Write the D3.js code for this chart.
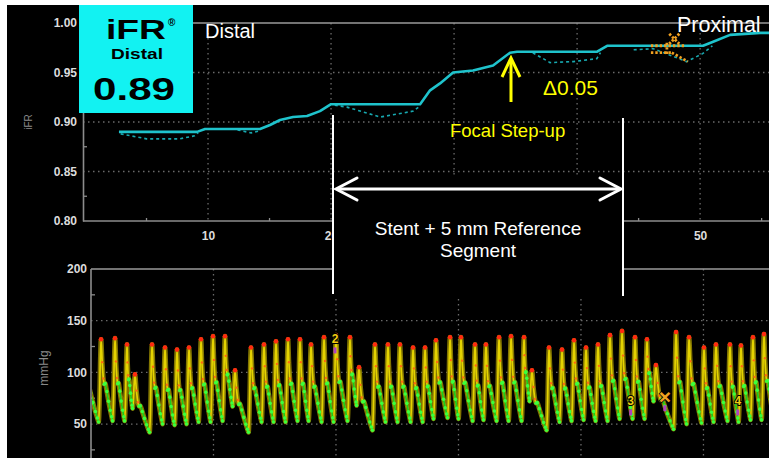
<!DOCTYPE html>
<html>
<head>
<meta charset="utf-8">
<script src="https://cdn.jsdelivr.net/npm/d3@7"></script>
<style>
  html, body { margin: 0; padding: 0; background: #fff; }
  svg { display: block; }
  text { font-family: "Liberation Sans", Arial, sans-serif; }
</style>
</head>
<body>
<svg id="chart" width="769" height="458"></svg>
<script>
// ---- iFR pullback (position in mm, iFR value) ----
const pullbackPos = [2.76, 9.11, 9.76, 14.23, 15.04, 15.85, 16.91, 18.05, 19.1, 20.0, 27.24, 28.05, 28.86, 29.92, 31.54, 33.17, 34.55, 35.12, 41.63, 42.44, 50.24, 51.06, 52.44, 54.88, 55.7];
const pullbackIFR = [0.890, 0.890, 0.893, 0.893, 0.897, 0.902, 0.905, 0.906, 0.911, 0.918, 0.918, 0.932, 0.939, 0.950, 0.952, 0.957, 0.970, 0.971, 0.971, 0.977, 0.977, 0.981, 0.988, 0.990, 0.990];

// beat-level minima drawn as dashed dips under the pullback curve
const dipPos = [
  [2.9, 5.0, 7.7, 8.9, 9.2],
  [12.4, 13.5, 14.2],
  [20.3, 21.3, 24.0, 26.7, 27.2],
  [36.4, 37.8, 39.7, 41.6, 41.9],
  [44.6, 46.2, 48.9, 50.2, 51.0]
];
const dipIFR = [
  [0.888, 0.883, 0.883, 0.886, 0.889],
  [0.892, 0.889, 0.891],
  [0.917, 0.915, 0.905, 0.911, 0.916],
  [0.970, 0.960, 0.961, 0.964, 0.970],
  [0.973, 0.974, 0.961, 0.969, 0.977]
];

// excluded-beat marker on the pullback curve
const excludedPos = 47.9, excludedIFR = 0.984;
const excludedGuidePos = [[46.0, 48.8], [46.0, 47.7], [47.7, 49.0], [47.3, 47.3]];
const excludedGuideIFR = [[0.977, 0.977], [0.970, 0.970], [0.970, 0.961], [0.980, 0.968]];

const ifrTicks = [0.80, 0.85, 0.90, 0.95, 1.00];
const ifrMinorTicks = [0.825, 0.875, 0.925, 0.975];
const posTicks = [10, 20, 30, 40, 50];
const posLabelTicks = [10, 20, 50];
const posMinorTicks = [5, 15, 25, 35, 45, 55];

// ---- pressure tracing: one entry per beat (onset time s, systolic peak, end-diastolic mmHg) ----
const beatOnset = [-0.9, 0.62, 1.76, 2.74, 3.39, 4.78, 5.84, 6.82, 7.80, 8.78, 9.76, 10.74, 11.56, 12.86, 13.92, 14.90, 15.88, 16.86, 17.76, 18.82, 19.80, 20.94, 21.68, 22.98, 24.04, 25.02, 26.09, 27.07, 27.96, 29.11, 30.00, 31.15, 32.04, 33.11, 34.09, 35.15, 35.80, 37.19, 38.25, 39.23, 40.21, 41.19, 42.17, 43.15, 44.21, 45.19, 45.92, 47.56, 48.62, 49.84, 50.82, 51.96, 52.86, 53.84, 54.74, 55.75];
const beatPeak = [130, 132, 133, 127, 98, 127, 124, 122, 124, 132, 135, 135, 102, 124, 127, 130, 132, 132, 127, 134, 136, 134, 105, 127, 127, 127, 124, 124, 131, 134, 134, 127, 127, 134, 135, 134, 102, 124, 122, 131, 124, 127, 136, 140, 134, 132, 107, 139, 134, 124, 127, 127, 126, 134, 137, 130];
const beatTrough = [55, 52, 53, 53, 65, 42, 50, 49, 50, 52, 52, 53, 67, 42, 52, 52, 52, 53, 53, 52, 52, 53, 68, 44, 52, 52, 52, 52, 55, 56, 55, 53, 54, 53, 53, 53, 72, 44, 52, 53, 54, 53, 53, 55, 55, 55, 72, 45, 50, 51, 52, 53, 52, 54, 54, 54];

// pulse contour: upstroke (fraction of upstroke time, fraction of pulse height)
const upstrokeDuration = 0.2;
const upstrokeShape = [[0, 0], [0.35, 0.22], [0.65, 0.7], [1, 1]];
// decay after the peak (fraction of remaining beat time, fraction of pulse height)
const decayShape = [[0, 1], [0.1, 0.72], [0.2, 0.52], [0.28, 0.45], [0.36, 0.46], [0.5, 0.36], [0.65, 0.24], [0.8, 0.13], [0.92, 0.05], [1, 0]];
const wavefreeStart = 0.28;

// numbered beat markers
const beatMarkLabels = ["2", "3", "4"];
const beatMarkTime = [19.92, 44.06, 52.8];
const beatMarkValue = [128, 68, 68];
const rejectMarkTime = 46.85, rejectMarkValue = 74;

const pressureTicks = [50, 100, 150, 200];
const pressureMinorTicks = [25, 75, 125, 175];
const timeGrid = [10, 20, 30, 40, 50];

const svg = d3.select("#chart");
svg.append("rect").attr("width", 769).attr("height", 458).attr("fill", "#fff");
svg.append("rect").attr("x", 7).attr("y", 5).attr("width", 762).attr("height", 453).attr("fill", "#000");

const gridColor = "#6a6a6a", axisColor = "#8c8c8c", labelColor = "#dcdcdc";

// ===================== iFR pullback panel =====================
const xT = d3.scaleLinear().domain([0, 55.6]).range([85, 769]);
const yT = d3.scaleLinear().domain([0.80, 1.00]).range([221, 23]);
const topG = svg.append("g");

topG.selectAll("line.hg").data(ifrTicks.filter(v => v > 0.8 && v < 1)).join("line")
  .attr("x1", 83).attr("x2", 769).attr("y1", d => yT(d)).attr("y2", d => yT(d))
  .attr("stroke", gridColor).attr("stroke-width", 1.3).attr("stroke-dasharray", "1.5,3.5");
topG.selectAll("line.vg").data(posTicks).join("line")
  .attr("x1", d => xT(d)).attr("x2", d => xT(d)).attr("y1", 23).attr("y2", 221)
  .attr("stroke", gridColor).attr("stroke-width", 1.3).attr("stroke-dasharray", "1.5,3.5");
topG.append("line").attr("x1", 83).attr("x2", 769).attr("y1", yT(1.0)).attr("y2", yT(1.0))
  .attr("stroke", "#9a9a9a").attr("stroke-width", 1.6);

const yAxisT = d3.axisLeft(yT).tickValues(ifrTicks).tickFormat(d3.format(".2f")).tickSize(0).tickPadding(6);
const gyT = topG.append("g").attr("transform", "translate(83,0)").call(yAxisT);
gyT.select(".domain").attr("stroke", axisColor).attr("stroke-width", 1.6);
gyT.selectAll("text").attr("fill", labelColor).attr("font-family", "DejaVu Sans").attr("font-weight", "bold").attr("font-size", 12);
topG.selectAll("line.ymt").data(ifrMinorTicks).join("line")
  .attr("x1", 83).attr("x2", 87).attr("y1", d => yT(d)).attr("y2", d => yT(d))
  .attr("stroke", axisColor).attr("stroke-width", 1.3);

// position labels between 20 and 50 sit under the stent window and are not shown
const xAxisT = d3.axisBottom(xT).tickValues(posLabelTicks).tickSize(0).tickPadding(10);
const gxT = topG.append("g").attr("transform", "translate(0,221)").call(xAxisT);
gxT.select(".domain").remove();
topG.append("line").attr("x1", 83).attr("x2", 769).attr("y1", 221).attr("y2", 221).attr("stroke", axisColor).attr("stroke-width", 1.6);
gxT.selectAll("text").attr("fill", labelColor).attr("font-family", "DejaVu Sans").attr("font-weight", "bold").attr("font-size", 12);
topG.selectAll("line.xmt").data(posMinorTicks.filter(d => xT(d) < 769)).join("line")
  .attr("x1", d => xT(d)).attr("x2", d => xT(d)).attr("y1", 218).attr("y2", 221)
  .attr("stroke", axisColor).attr("stroke-width", 1.3);

topG.append("text").attr("transform", "translate(32,122) rotate(-90)").attr("text-anchor", "middle")
  .attr("fill", "#8a8a8a").attr("font-size", 10).text("iFR");

const lineT = d3.line().x(d => xT(d[0])).y(d => yT(d[1]));
const cyan = "#1fc3cc";
dipPos.forEach((seg, i) => {
  topG.append("path").datum(seg.map((p, j) => [p, dipIFR[i][j]]))
    .attr("d", lineT).attr("fill", "none").attr("stroke", "#17a9b0").attr("stroke-width", 1.6)
    .attr("stroke-dasharray", "3,3");
});
topG.append("path").datum(pullbackPos.map((p, i) => [p, pullbackIFR[i]]))
  .attr("d", lineT).attr("fill", "none").attr("stroke", cyan)
  .attr("stroke-width", 2.6).attr("stroke-linejoin", "round");

// excluded beat marker (orange, dotted)
const orange = "#f0a020";
excludedGuidePos.forEach((seg, i) => {
  topG.append("path").datum(seg.map((p, j) => [p, excludedGuideIFR[i][j]]))
    .attr("d", lineT).attr("fill", "none").attr("stroke", orange).attr("stroke-width", 2.8)
    .attr("stroke-dasharray", "2.4,2");
});
const ex = xT(excludedPos), ey = yT(excludedIFR);
topG.append("path").attr("d", `M${ex - 5},${ey - 5}L${ex + 5},${ey + 5}M${ex + 5},${ey - 5}L${ex - 5},${ey + 5}`)
  .attr("stroke", orange).attr("stroke-width", 2.8).attr("stroke-dasharray", "2.4,1.6").attr("fill", "none");

// ===================== pressure panel =====================
const xB = d3.scaleLinear().domain([0, 55.35]).range([91, 769]);
const yB = d3.scaleLinear().domain([0, 200]).range([475.7, 269]);
const botG = svg.append("g");

botG.selectAll("line.hg").data(pressureTicks.filter(v => v < 200)).join("line")
  .attr("x1", 91).attr("x2", 769).attr("y1", d => yB(d)).attr("y2", d => yB(d))
  .attr("stroke", gridColor).attr("stroke-width", 1.3).attr("stroke-dasharray", "1.5,3.5");
botG.selectAll("line.vg").data(timeGrid).join("line")
  .attr("x1", d => xB(d)).attr("x2", d => xB(d)).attr("y1", 269).attr("y2", 458)
  .attr("stroke", gridColor).attr("stroke-width", 1.3).attr("stroke-dasharray", "1.5,3.5");
botG.append("line").attr("x1", 91).attr("x2", 769).attr("y1", yB(200)).attr("y2", yB(200))
  .attr("stroke", "#9a9a9a").attr("stroke-width", 1.6);

const yAxisB = d3.axisLeft(yB).tickValues(pressureTicks).tickSize(0).tickPadding(4);
const gyB = botG.append("g").attr("transform", "translate(91,0)").call(yAxisB);
gyB.select(".domain").remove();
botG.append("line").attr("x1", 91).attr("x2", 91).attr("y1", 269).attr("y2", 458).attr("stroke", axisColor).attr("stroke-width", 1.6);
gyB.selectAll("text").attr("fill", labelColor).attr("font-family", "DejaVu Sans").attr("font-weight", "bold").attr("font-size", 12);
botG.selectAll("line.ymt").data(pressureMinorTicks).join("line")
  .attr("x1", 91).attr("x2", 95).attr("y1", d => yB(d)).attr("y2", d => yB(d))
  .attr("stroke", axisColor).attr("stroke-width", 1.3);
botG.append("text").attr("transform", "translate(48,368) rotate(-90)").attr("text-anchor", "middle")
  .attr("fill", "#8a8a8a").attr("font-size", 12).text("mmHg");

// build beat contours
const beats = [];
for (let i = 0; i < beatOnset.length - 1; i++) {
  const o = beatOnset[i], p = beatPeak[i], tr = beatTrough[i];
  const o2 = beatOnset[i + 1], tr2 = beatTrough[i + 1];
  const span = o2 - o - upstrokeDuration;
  const up = upstrokeShape.map(([f, s]) => ({ t: o + f * upstrokeDuration, v: tr + s * (p - tr) }));
  const down = decayShape.map(([f, s]) => ({ t: o + upstrokeDuration + f * span, v: tr2 + s * (p - tr2), f }));
  beats.push({ up, down, peak: { t: o + upstrokeDuration, v: p } });
}
const allPts = [];
beats.forEach(b => { b.up.forEach(d => allPts.push(d)); b.down.slice(1).forEach(d => allPts.push(d)); });

const clip = svg.append("defs").append("clipPath").attr("id", "pclip");
clip.append("rect").attr("x", 92).attr("y", 269).attr("width", 677).attr("height", 189);
const waves = botG.append("g").attr("clip-path", "url(#pclip)");
const lineB = d3.line().x(d => xB(d.t)).y(d => yB(d.v)).curve(d3.curveMonotoneX);

waves.append("path").datum(allPts).attr("d", lineB).attr("fill", "none")
  .attr("stroke", "#8a7c00").attr("stroke-width", 4.8).attr("stroke-linejoin", "round").attr("opacity", 0.95);
waves.append("path").datum(allPts).attr("d", lineB).attr("fill", "none")
  .attr("stroke", "#e4d200").attr("stroke-width", 1.7).attr("stroke-linejoin", "round");

// systolic run-off dotted orange, peak red
beats.forEach(b => {
  const sys = b.down.filter(d => d.f > 0 && d.f < wavefreeStart);
  waves.append("circle").attr("cx", xB(b.peak.t)).attr("cy", yB(b.peak.v)).attr("r", 2.3).attr("fill", "#ff2a10");
  sys.forEach(d => waves.append("circle").attr("cx", xB(d.t)).attr("cy", yB(d.v)).attr("r", 1.2).attr("fill", "#ff6a10"));
});
// wave-free period highlighted green
beats.forEach(b => {
  const wf = b.down.filter(d => d.f >= wavefreeStart);
  waves.append("path").datum(wf).attr("d", lineB).attr("fill", "none")
    .attr("stroke", "#1cc81c").attr("stroke-width", 1.8);
  wf.forEach(d => waves.append("circle").attr("cx", xB(d.t)).attr("cy", yB(d.v)).attr("r", 1.8).attr("fill", "#3cff3c"));
});

// beat annotations
beatMarkLabels.forEach((lab, i) => {
  botG.append("rect").attr("x", xB(beatMarkTime[i]) - 1.5).attr("y", yB(beatMarkValue[i]) + 4)
    .attr("width", 3).attr("height", 6).attr("fill", "#b040c0");
  botG.append("text").attr("x", xB(beatMarkTime[i])).attr("y", yB(beatMarkValue[i])).attr("text-anchor", "middle")
    .attr("fill", "#f0cc10").attr("stroke", "#000").attr("stroke-width", 2).attr("paint-order", "stroke")
    .attr("font-family", "DejaVu Sans").attr("font-weight", "bold").attr("font-size", 12).text(lab);
});
botG.append("rect").attr("x", xB(rejectMarkTime) - 1.5).attr("y", yB(rejectMarkValue) + 6)
  .attr("width", 3).attr("height", 6).attr("fill", "#b040c0");
botG.append("text").attr("x", xB(rejectMarkTime)).attr("y", yB(rejectMarkValue) + 5).attr("text-anchor", "middle")
  .attr("fill", orange).attr("stroke", "#000").attr("stroke-width", 1.5).attr("paint-order", "stroke")
  .attr("font-weight", "bold").attr("font-size", 21).text("×");

// ===================== annotations =====================
const ann = svg.append("g");
// stent segment window
ann.append("rect").attr("x", 334).attr("y", 176).attr("width", 288).attr("height", 122).attr("fill", "#000");
ann.append("line").attr("x1", 333).attr("x2", 333).attr("y1", 115).attr("y2", 294).attr("stroke", "#fff").attr("stroke-width", 2);
ann.append("line").attr("x1", 623).attr("x2", 623).attr("y1", 118).attr("y2", 296).attr("stroke", "#fff").attr("stroke-width", 2);
ann.append("line").attr("x1", 337).attr("x2", 620).attr("y1", 189).attr("y2", 189).attr("stroke", "#fff").attr("stroke-width", 3);
ann.append("path").attr("d", "M357,178 L336,189 L357,200").attr("fill", "none").attr("stroke", "#fff").attr("stroke-width", 3).attr("stroke-linecap", "round");
ann.append("path").attr("d", "M600,178 L621,189 L600,200").attr("fill", "none").attr("stroke", "#fff").attr("stroke-width", 3).attr("stroke-linecap", "round");
ann.append("text").attr("x", 478).attr("y", 235).attr("text-anchor", "middle").attr("fill", "#fff").attr("font-size", 19).text("Stent + 5 mm Reference");
ann.append("text").attr("x", 478).attr("y", 257).attr("text-anchor", "middle").attr("fill", "#fff").attr("font-size", 19).text("Segment");

// focal step-up arrow
ann.append("line").attr("x1", 511).attr("x2", 511).attr("y1", 59).attr("y2", 102).attr("stroke", "#ffff00").attr("stroke-width", 3);
ann.append("path").attr("d", "M502,77 L511,58 L520,77").attr("fill", "none").attr("stroke", "#ffff00").attr("stroke-width", 3);
ann.append("text").attr("x", 543).attr("y", 95).attr("fill", "#ffff00").attr("font-size", 21).text("Δ0.05");
ann.append("text").attr("x", 450).attr("y", 137).attr("fill", "#ffff00").attr("font-size", 18.5).text("Focal Step-up");

ann.append("text").attr("x", 205).attr("y", 38).attr("fill", "#fff").attr("font-size", 20).text("Distal");
ann.append("text").attr("x", 677).attr("y", 32).attr("fill", "#fff").attr("font-size", 21.5).text("Proximal");

// iFR value box
const box = svg.append("g");
box.append("rect").attr("x", 79).attr("y", 5).attr("width", 114).attr("height", 108).attr("fill", "#12f2f2");
box.append("text").attr("x", 106).attr("y", 39).attr("fill", "#000").attr("font-weight", "bold").attr("font-size", 27)
  .attr("textLength", 60).attr("lengthAdjust", "spacingAndGlyphs").text("iFR");
box.append("text").attr("x", 168).attr("y", 26).attr("fill", "#000").attr("font-weight", "bold").attr("font-size", 10).text("®");
box.append("text").attr("x", 111).attr("y", 59).attr("fill", "#000").attr("font-weight", "bold").attr("font-size", 15)
  .attr("textLength", 52).attr("lengthAdjust", "spacingAndGlyphs").text("Distal");
box.append("text").attr("x", 93).attr("y", 100).attr("fill", "#000").attr("font-weight", "bold").attr("font-size", 32)
  .attr("textLength", 82).attr("lengthAdjust", "spacingAndGlyphs").text("0.89");
</script>
</body>
</html>
